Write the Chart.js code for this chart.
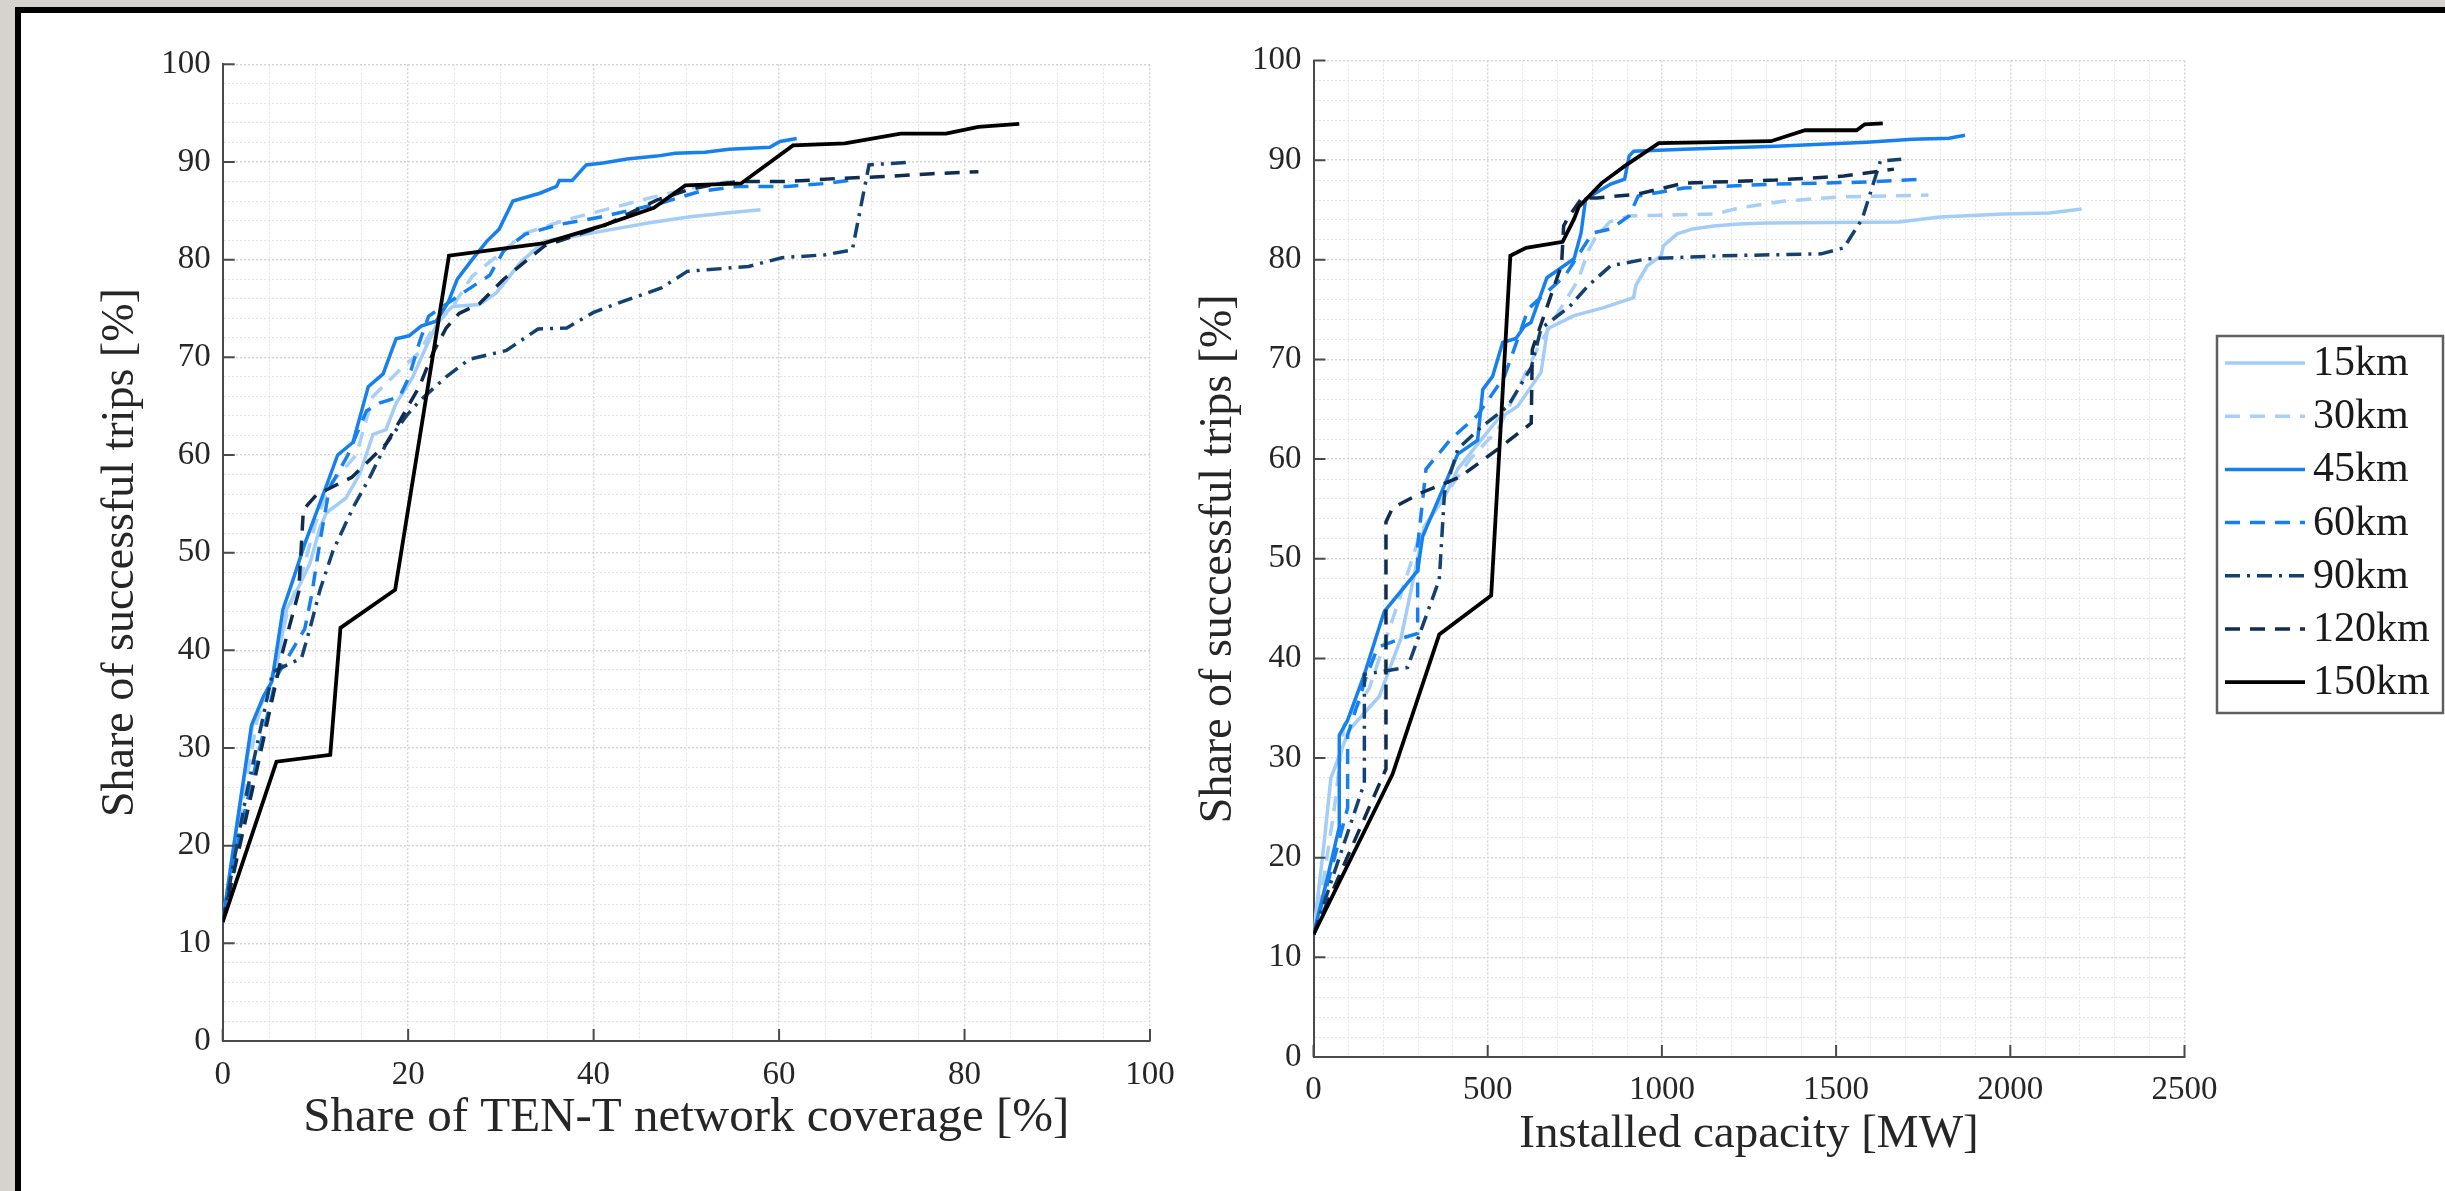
<!DOCTYPE html>
<html>
<head>
<meta charset="utf-8">
<script src="https://cdn.jsdelivr.net/npm/chart.js@4.4.1/dist/chart.umd.min.js"></script>
<style>
  html, body { margin: 0; padding: 0; }
  body { width: 2445px; height: 1191px; background: #d6d3ce; overflow: hidden; position: relative; }
  #frame { position: absolute; left: 15px; top: 7px; width: 2500px; height: 1300px; background: #fff;
           border-left: 6px solid #000; border-top: 6px solid #000; }
  #left { position: absolute; left: 0; top: 0; }
  #right { position: absolute; left: 1150px; top: 0; }
</style>
</head>
<body>
<div id="frame"></div>
<canvas id="left" width="1200" height="1191" style="width:1200px;height:1191px"></canvas>
<canvas id="right" width="1295" height="1191" style="width:1295px;height:1191px"></canvas>
<script>
// ranges and tick labels
const ranges = ["15km", "30km", "45km", "60km", "90km", "120km", "150km"];
const coverageTicks = [0, 20, 40, 60, 80, 100];
const capacityTicks = [0, 500, 1000, 1500, 2000, 2500];
const shareTicks = [0, 10, 20, 30, 40, 50, 60, 70, 80, 90, 100];

// share of successful trips vs TEN-T coverage [%]
const coverage15 = [[0,12.2],[1.5,22],[3.3,32.8],[5.1,36.3],[6,39.3],[6.9,44.2],[8.3,46.7],[9.4,48.9],[10.5,52.6],[11.2,54.1],[13.3,55.6],[14.8,58.1],[16.2,62.1],[17.6,62.6],[18.7,65.3],[20.5,68],[21.9,71],[23.4,74],[24.8,75.2],[27.7,75.4],[29.5,76.6],[32.1,79.7],[34.7,81.9],[37.9,82.4],[42,83.1],[46.2,83.8],[50.4,84.4],[54.6,84.8],[58,85.1]];
const coverage30 = [[0,12.2],[1.5,21],[3.7,32.8],[5.5,38],[7,44],[8.7,48.4],[10,53],[11.5,56.9],[14.4,60],[16.2,66],[17.6,67.3],[19.1,68.7],[21.2,70.5],[22.7,73],[24.8,75.2],[26.9,78.3],[29.5,80.3],[32.6,82.7],[37.1,84.1],[42,85.3],[46.8,86.5],[50.4,87.3],[54.6,88]];
const coverage45 = [[0,12.2],[3.1,32.3],[4.4,35.3],[5.3,36.8],[6.5,44.2],[7.4,46.7],[8.85,50.9],[11.2,56.9],[12.4,60],[14.05,61.3],[15.7,67],[17.3,68.3],[18.7,71.9],[20.1,72.2],[21.4,73.2],[23,73.7],[24.3,75.6],[25.3,78],[26.9,80],[28.5,81.9],[29.8,83.1],[31.3,86],[34.2,86.8],[36,87.5],[36.3,88.1],[37.7,88.1],[39.2,89.7],[41,89.9],[43.6,90.3],[46.8,90.6],[48.8,90.9],[52,91],[54.6,91.3],[59,91.5],[60.1,92.1],[61.9,92.4]];
const coverage60 = [[0,12.2],[2,22],[3.5,28],[5.8,37.3],[8.85,42.2],[9.6,45.7],[10.5,51.2],[11.5,56.6],[13.5,60],[15.5,64.5],[16.9,65.3],[19.1,66],[20.1,68],[21.2,71.5],[22.2,74.2],[25.9,76.6],[28.8,78.4],[30.3,80.9],[32.6,82.6],[36.3,83.6],[41,84.4],[47.3,85.8],[51.5,87],[55.6,87.5],[60.9,87.5],[65,87.8],[68.2,88.2]];
const coverage90 = [[0,12.2],[2.5,25],[5.4,37.8],[8.5,39.2],[9.4,42.2],[10.5,46.2],[11.9,50.2],[14.05,54.6],[15.8,57.6],[17.6,61.1],[19.8,64],[21.2,65.5],[24.1,68],[26.6,69.8],[30.6,70.7],[34,72.9],[37.1,73],[40,74.6],[43.1,75.7],[47.3,77.1],[50.1,78.8],[56.7,79.3],[60.3,80.2],[65,80.5],[67.9,81],[69.7,89.7],[74.4,90]];
const coverage120 = [[0,12.2],[3.5,27],[6.5,40],[8.2,46],[8.7,54.4],[10.1,55.9],[12.6,57.1],[13.9,57.7],[17.6,61.1],[19.1,63.5],[21.2,67],[22.7,70.5],[24.1,73],[25.5,74.5],[27.7,75.5],[30.3,78],[34.7,81.4],[41.2,83.5],[46.8,86.1],[50.4,87.2],[53,87.7],[55.6,88],[60.9,88],[66.1,88.3],[71.3,88.5],[76.5,88.8],[81.5,89]];
const coverage150 = [[0,12.2],[5.8,28.6],[11.6,29.3],[12.7,42.3],[18.6,46.2],[24.4,80.4],[34.7,81.7],[40.7,83.4],[46.5,85.3],[49.9,87.6],[55.9,87.8],[61.5,91.7],[67.1,91.9],[73.1,92.9],[78,92.9],[81.5,93.6],[85.9,93.9]];

// share of successful trips vs installed capacity [MW]
const capacity15 = [[0,12.3],[31,21.7],[50,28],[102,32.8],[189,36.2],[251,42],[318,53.2],[375,56.1],[414,59],[471,61.5],[529,64],[586,65.3],[653,68.7],[672,73.1],[748,74.4],[833,75.2],[919,76.2],[925,77.4],[958,79.4],[998,80.4],[1004,81.4],[1044,82.6],[1089,83.1],[1149,83.4],[1221,83.6],[1300,83.7],[1680,83.8],[1798,84.3],[1982,84.6],[2113,84.7],[2205,85.1]];
const capacity30 = [[0,12.3],[30,18],[60,25],[88,33.3],[160,37],[246,45.9],[308,52.7],[380,56.5],[450,60],[530,63],[600,68],[643,71.1],[702,74.7],[760,78],[790,81],[807,82.1],[850,83.8],[906,84.4],[1155,84.6],[1221,85.2],[1352,85.9],[1509,86.3],[1765,86.5]];
const capacity45 = [[0,12.3],[40,18],[74,23.1],[74,32.3],[98,33.8],[146,38.4],[203,44.7],[299,48.8],[313,52.2],[414,60.5],[471,61.9],[486,67],[514,68.3],[543,71.7],[581,72.1],[605,73.3],[624,73.7],[670,78.2],[748,80.1],[768,82.7],[781,86.1],[853,87.6],[893,88.1],[906,90.4],[919,90.9],[1063,91.1],[1326,91.4],[1588,91.8],[1719,92.1],[1824,92.2],[1870,92.5]];
const capacity60 = [[0,12.3],[45,18],[98,25],[98,32.3],[150,38],[184,41.1],[251,42],[299,42.5],[299,51.3],[323,59],[394,62],[471,64.4],[548,68.3],[617,75.1],[722,78.4],[801,82.7],[853,83.1],[906,84.4],[932,86.4],[1063,87.2],[1326,87.6],[1588,87.8],[1759,88.1]];
const capacity90 = [[0,12.3],[146,27.5],[146,38.4],[270,39.1],[361,47.9],[376,56.6],[414,61],[481,63.2],[558,65.3],[625,69.2],[653,73.1],[735,75.3],[788,77.4],[853,79.4],[958,80.1],[1168,80.4],[1457,80.6],[1522,81.2],[1575,84.1],[1627,89.9],[1687,90.1]];
const capacity120 = [[0,12.3],[208,28.9],[208,53.7],[227,55.1],[308,56.6],[420,58.2],[529,61],[625,63.6],[628,71],[712,79.5],[718,83.4],[730,84.2],[770,86.2],[814,86.2],[932,86.6],[1063,87.7],[1326,88],[1522,88.4],[1666,89.1]];
const capacity150 = [[0,12.3],[227,28.4],[361,42.4],[510,46.3],[565,80.4],[610,81.2],[715,81.8],[748,84.1],[761,85.3],[827,87.7],[893,89.4],[991,91.7],[1313,91.9],[1411,93],[1559,93],[1582,93.6],[1634,93.7]];

const coverageSeries = [coverage15, coverage30, coverage45, coverage60, coverage90, coverage120, coverage150];
const capacitySeries = [capacity15, capacity30, capacity45, capacity60, capacity90, capacity120, capacity150];

const lineColors = ["#a3cdf7", "#a8cff5", "#1681ee", "#1681ee", "#134272", "#0f2d50", "#000000"];
const lineDashes = [[], [15, 10], [], [15, 10], [15, 7, 3, 7], [15, 10], []];

Chart.defaults.font.family = '"Liberation Serif", "DejaVu Serif", serif';
Chart.defaults.color = "#262626";

function gridValues(max, step) {
    const out = [];
    for (let v = 0; v <= max + 1e-9; v += step) out.push({ value: v });
    return out;
}

function makeDatasets(series) {
    return series.map((pts, i) => ({
        label: ranges[i],
        data: pts.map(p => ({ x: p[0], y: p[1] })),
        borderColor: lineColors[i],
        borderDash: lineDashes[i],
        borderWidth: i === 6 ? 3.8 : 3.5,
        pointRadius: 0,
        tension: 0,
        fill: false,
        order: 6 - i
    }));
}

// MATLAB-like tick marks pointing into the plot
const innerTicks = {
    id: "innerTicks",
    afterDraw(chart, args, o) {
        const { ctx, chartArea: a, scales } = chart;
        ctx.save();
        ctx.strokeStyle = "#4a4a4a";
        ctx.lineWidth = 2;
        ctx.beginPath();
        o.x.forEach(v => {
            const px = scales.x.getPixelForValue(v);
            ctx.moveTo(px, a.bottom);
            ctx.lineTo(px, a.bottom - 12);
        });
        o.y.forEach(v => {
            const py = scales.y.getPixelForValue(v);
            ctx.moveTo(a.left, py);
            ctx.lineTo(a.left + 12, py);
        });
        ctx.stroke();
        ctx.restore();
    }
};

// shared legend box at the right
const legendBox = {
    id: "legendBox",
    afterDraw(chart, args, o) {
        const ctx = chart.ctx;
        ctx.save();
        ctx.fillStyle = "#fff";
        ctx.fillRect(o.x, o.y, o.w, o.h);
        ctx.strokeStyle = "#5f5f5f";
        ctx.lineWidth = 2.5;
        ctx.strokeRect(o.x, o.y, o.w, o.h);
        ctx.font = '42px "Liberation Serif", "DejaVu Serif", serif';
        ctx.textBaseline = "middle";
        chart.data.datasets.forEach((ds, i) => {
            const y = o.y + o.first + i * o.step;
            ctx.strokeStyle = ds.borderColor;
            ctx.lineWidth = ds.borderWidth;
            ctx.setLineDash(ds.borderDash);
            ctx.beginPath();
            ctx.moveTo(o.x + 8, y);
            ctx.lineTo(o.x + 88, y);
            ctx.stroke();
            ctx.setLineDash([]);
            ctx.fillStyle = "#1a1a1a";
            ctx.fillText(ds.label, o.x + 96, y + 1);
        });
        ctx.restore();
    }
};

function axis(max, minorStep, majors, fit, tickPad, title) {
    return {
        type: "linear",
        min: 0,
        max: max,
        afterFit: fit,
        afterBuildTicks: s => { s.ticks = gridValues(max, minorStep); },
        ticks: {
            autoSkip: false,
            maxRotation: 0,
            padding: tickPad,
            color: "#262626",
            font: { size: 33 },
            callback: v => majors.includes(v) ? String(v) : ""
        },
        grid: {
            drawTicks: false,
            color: c => majors.includes(c.tick.value) ? "#d3d3d3" : "#e3e3e3",
            lineWidth: c => majors.includes(c.tick.value) ? 1.4 : 1
        },
        border: { display: true, color: "#4a4a4a", width: 2, dash: [2, 2] },
        title: title
    };
}

function makeChart(id, series, xMax, xStep, xMajors, cfg, plugins, legendOpts) {
    return new Chart(document.getElementById(id), {
        type: "line",
        data: { datasets: makeDatasets(series) },
        options: {
            responsive: false,
            animation: false,
            layout: { padding: cfg.padding },
            plugins: {
                legend: { display: false },
                tooltip: { enabled: false },
                innerTicks: { x: xMajors, y: shareTicks },
                legendBox: legendOpts || {}
            },
            scales: {
                x: axis(xMax, xStep, xMajors, s => { s.height = cfg.xHeight; }, cfg.xTickPad, {
                    display: true, text: cfg.xTitle, color: "#262626",
                    font: { size: cfg.xTitleSize }, padding: { top: 0, bottom: cfg.xTitlePad }
                }),
                y: axis(100, 2, shareTicks, s => { s.width = cfg.yWidth; }, 12, {
                    display: true, text: "Share of successful trips [%]", color: "#262626",
                    font: { size: 46 }, padding: { top: cfg.yTitlePad, bottom: 0 }
                })
            }
        },
        plugins: plugins
    });
}

makeChart("left", coverageSeries, 100, 5, coverageTicks, {
    padding: { top: 64.3, right: 50, bottom: 0, left: 0 },
    xHeight: 150, yWidth: 222.7, xTitlePad: 43, yTitlePad: 93, xTickPad: 15, xTitleSize: 49,
    xTitle: "Share of TEN-T network coverage [%]"
}, [innerTicks]);

makeChart("right", capacitySeries, 2500, 100, capacityTicks, {
    padding: { top: 60.5, right: 260.5, bottom: 0, left: 0 },
    xHeight: 134, yWidth: 163.5, xTitlePad: 28, yTitlePad: 41, xTickPad: 14, xTitleSize: 47,
    xTitle: "Installed capacity [MW]"
}, [innerTicks, legendBox], { x: 1067, y: 336, w: 226, h: 377, first: 27, step: 53.2 });
</script>
</body>
</html>
